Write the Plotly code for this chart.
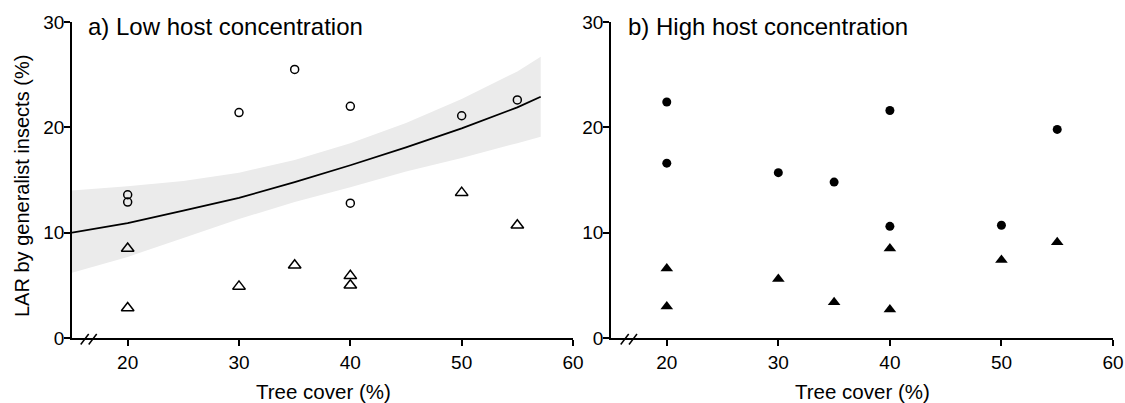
import plotly.graph_objects as go

# ---------------- data ----------------
# Panel a) Low host concentration (open symbols)
low_circle_x = [20, 20, 30, 35, 40, 40, 50, 55]
low_circle_y = [13.6, 12.9, 21.4, 25.5, 22.0, 12.8, 21.1, 22.6]
low_tri_x = [20, 20, 30, 35, 40, 40, 50, 55]
low_tri_y = [8.5, 2.85, 4.9, 6.9, 5.9, 5.0, 13.8, 10.7]

# fitted curve and confidence band (panel a)
fit_x = [15, 20, 25, 30, 35, 40, 45, 50, 55, 57.1]
fit_y = [10.0, 10.9, 12.1, 13.3, 14.8, 16.4, 18.1, 19.9, 21.9, 22.9]
ci_lower = [6.2, 7.7, 9.5, 11.3, 12.9, 14.3, 15.8, 17.1, 18.5, 19.1]
ci_upper = [14.0, 14.4, 14.9, 15.7, 16.9, 18.5, 20.4, 22.7, 25.3, 26.7]

# Panel b) High host concentration (filled symbols)
high_circle_x = [20, 20, 30, 35, 40, 40, 50, 55]
high_circle_y = [22.4, 16.6, 15.7, 14.8, 21.6, 10.6, 10.7, 19.8]
high_tri_x = [20, 20, 30, 35, 40, 40, 50, 55]
high_tri_y = [6.6, 3.0, 5.6, 3.4, 8.5, 2.7, 7.4, 9.1]

x_ticks = [20, 30, 40, 50, 60]
y_ticks = [0, 10, 20, 30]
panel_titles = ["a) Low host concentration", "b) High host concentration"]
x_title = "Tree cover (%)"
y_title = "LAR by generalist insects (%)"

# ---------------- figure ----------------
W, H = 1125, 403
FONT = "Arial, 'Liberation Sans', Helvetica, sans-serif"

def px(x):
    return x / W

def py(y):
    return 1 - y / H

fig = go.Figure()

# confidence band
fig.add_trace(go.Scatter(x=fit_x, y=ci_upper, mode="lines", line=dict(width=0),
                         hoverinfo="skip", showlegend=False, xaxis="x", yaxis="y"))
fig.add_trace(go.Scatter(x=fit_x, y=ci_lower, mode="lines", line=dict(width=0),
                         fill="tonexty", fillcolor="#ebebeb",
                         hoverinfo="skip", showlegend=False, xaxis="x", yaxis="y"))
fig.add_trace(go.Scatter(x=fit_x, y=fit_y, mode="lines",
                         line=dict(color="black", width=1.8),
                         showlegend=False, xaxis="x", yaxis="y"))

fig.add_trace(go.Scatter(x=low_circle_x, y=low_circle_y, mode="markers",
                         marker=dict(symbol="circle-open", size=8, color="black",
                                     line=dict(width=1.5)),
                         showlegend=False, xaxis="x", yaxis="y"))
fig.add_trace(go.Scatter(x=low_tri_x, y=low_tri_y, mode="markers",
                         marker=dict(symbol="triangle-up-open", size=11, color="black",
                                     line=dict(width=1.5)),
                         showlegend=False, xaxis="x", yaxis="y"))

fig.add_trace(go.Scatter(x=high_circle_x, y=high_circle_y, mode="markers",
                         marker=dict(symbol="circle", size=9, color="black"),
                         showlegend=False, xaxis="x2", yaxis="y2"))
fig.add_trace(go.Scatter(x=high_tri_x, y=high_tri_y, mode="markers",
                         marker=dict(symbol="triangle-up", size=11, color="black"),
                         showlegend=False, xaxis="x2", yaxis="y2"))

y_dom = [py(338), py(22)]
axis_common = dict(showline=True, linecolor="black", linewidth=1.5,
                   ticks="outside", ticklen=6, tickwidth=1.5, tickcolor="black",
                   showgrid=False, zeroline=False, automargin=False,
                   tickfont=dict(family=FONT, size=19, color="black"))

fig.update_layout(
    width=W, height=H,
    margin=dict(l=0, r=0, t=0, b=0, pad=0, autoexpand=False),
    paper_bgcolor="white", plot_bgcolor="white",
    showlegend=False,
    xaxis=dict(domain=[px(72), px(573)], range=[15, 60], tickvals=x_ticks,
               anchor="y", **axis_common),
    yaxis=dict(domain=y_dom, range=[0, 30], tickvals=y_ticks,
               anchor="x", ticklabelstandoff=-4, **axis_common),
    xaxis2=dict(domain=[px(611), px(1113)], range=[15, 60], tickvals=x_ticks,
                anchor="y2", **axis_common),
    yaxis2=dict(domain=y_dom, range=[0, 30], tickvals=y_ticks,
                anchor="x2", ticklabelstandoff=-4, **axis_common),
)

annotations = [
    dict(text=panel_titles[0], x=px(86), y=py(27), xref="paper", yref="paper",
         xanchor="left", yanchor="middle", showarrow=False,
         font=dict(family=FONT, size=24, color="black")),
    dict(text=panel_titles[1], x=px(626), y=py(27), xref="paper", yref="paper",
         xanchor="left", yanchor="middle", showarrow=False,
         font=dict(family=FONT, size=24, color="black")),
    dict(text=x_title, x=px(323), y=py(391), xref="paper", yref="paper",
         xanchor="center", yanchor="middle", showarrow=False,
         font=dict(family=FONT, size=20.5, color="black")),
    dict(text=x_title, x=px(862), y=py(391), xref="paper", yref="paper",
         xanchor="center", yanchor="middle", showarrow=False,
         font=dict(family=FONT, size=20.5, color="black")),
    dict(text=y_title, x=px(22), y=py(186), xref="paper", yref="paper",
         xanchor="center", yanchor="middle", showarrow=False, textangle=-90,
         font=dict(family=FONT, size=20, color="black")),
]
fig.update_layout(annotations=annotations)

# axis-break marks "//"
shapes = []
for x0 in (80.7, 88.7, 620.7, 629.0):
    shapes.append(dict(type="line", xref="paper", yref="paper",
                       x0=px(x0), y0=py(344.5), x1=px(x0 + 8), y1=py(334.0),
                       line=dict(color="black", width=1.5)))
fig.update_layout(shapes=shapes)

fig.write_html("out.html")
